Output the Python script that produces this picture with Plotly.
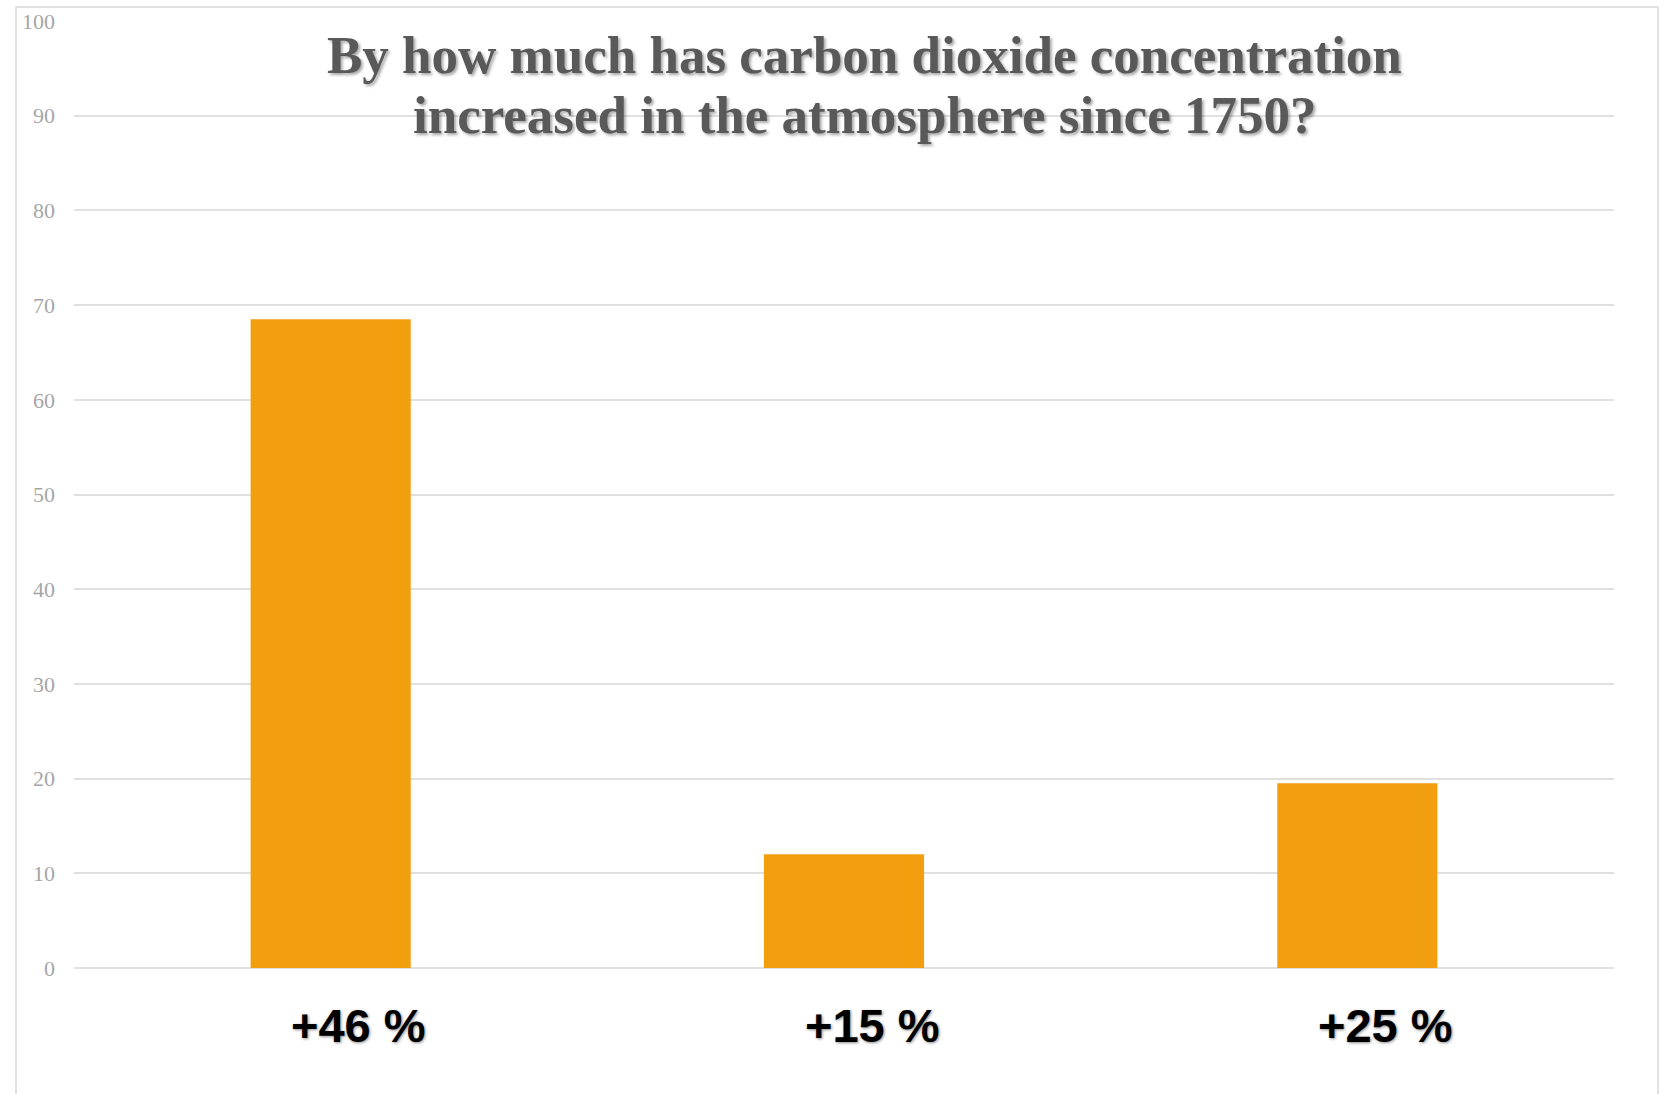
import plotly.graph_objects as go

# Answer options and the share of responses for each (in %)
answers = ["+46 %", "+15 %", "+25 %"]
responses = [68.5, 12.0, 19.5]
y_ticks = [0, 10, 20, 30, 40, 50, 60, 70, 80, 90, 100]
title_lines = [
    "By how much has carbon dioxide concentration",
    "increased in the atmosphere since 1750?",
]

W, H = 1665, 1094
M_L, M_R, M_T, M_B = 74, 51, 21, 126
plot_w = W - M_L - M_R
plot_h = H - M_T - M_B


def py_to_paper(py):
    return (H - M_B - py) / plot_h


def px_to_paper(px):
    return (px - M_L) / plot_w


GRID = "#e0e0e0"
BAR = "#F29F0F"

fig = go.Figure()
fig.add_trace(go.Bar(
    x=answers,
    y=responses,
    marker=dict(color=BAR, line=dict(width=0)),
    hoverinfo="skip",
))

annotations = []
# two-line title, each line placed on its own row
for line, py in zip(title_lines, [55, 115]):
    annotations.append(dict(
        text=line, xref="paper", yref="paper",
        x=px_to_paper(864), y=py_to_paper(py),
        xanchor="center", yanchor="middle", showarrow=False,
        font=dict(family="Liberation Serif", size=53, color="#595959",
                  weight="bold", shadow="2px 2px 3px rgba(0,0,0,0.35)"),
    ))

# category labels under the bars
for a in answers:
    annotations.append(dict(
        text=a, x=a, xref="x", yref="paper", y=py_to_paper(1025),
        xanchor="center", yanchor="middle", xshift=28, showarrow=False,
        font=dict(family="Liberation Sans", size=47, color="#000000",
                  weight="bold", shadow="1px 1px 3px rgba(0,0,0,0.45)"),
    ))

fig.update_layout(
    width=W, height=H,
    margin=dict(l=M_L, r=M_R, t=M_T, b=M_B, pad=0, autoexpand=False),
    paper_bgcolor="white", plot_bgcolor="white",
    bargap=0.688,
    showlegend=False,
    annotations=annotations,
    shapes=[dict(
        type="rect", xref="paper", yref="paper",
        x0=px_to_paper(16), x1=px_to_paper(1658),
        y0=py_to_paper(1110), y1=py_to_paper(7),
        line=dict(color="#d9d9d9", width=1.5), fillcolor="rgba(0,0,0,0)",
        layer="below",
    )],
    xaxis=dict(showticklabels=False, showgrid=False, zeroline=False,
               showline=False, ticks="", automargin=False),
    yaxis=dict(
        range=[0, 100], tickvals=y_ticks, ticktext=[str(v) for v in y_ticks],
        showgrid=True, gridcolor=GRID, gridwidth=1.5,
        zeroline=True, zerolinecolor=GRID, zerolinewidth=1.5,
        showline=False, ticks="", ticklabelstandoff=18, automargin=False,
        tickfont=dict(family="Liberation Serif", size=22, color="#a6a6a6"),
    ),
)

fig.write_html("out.html")
